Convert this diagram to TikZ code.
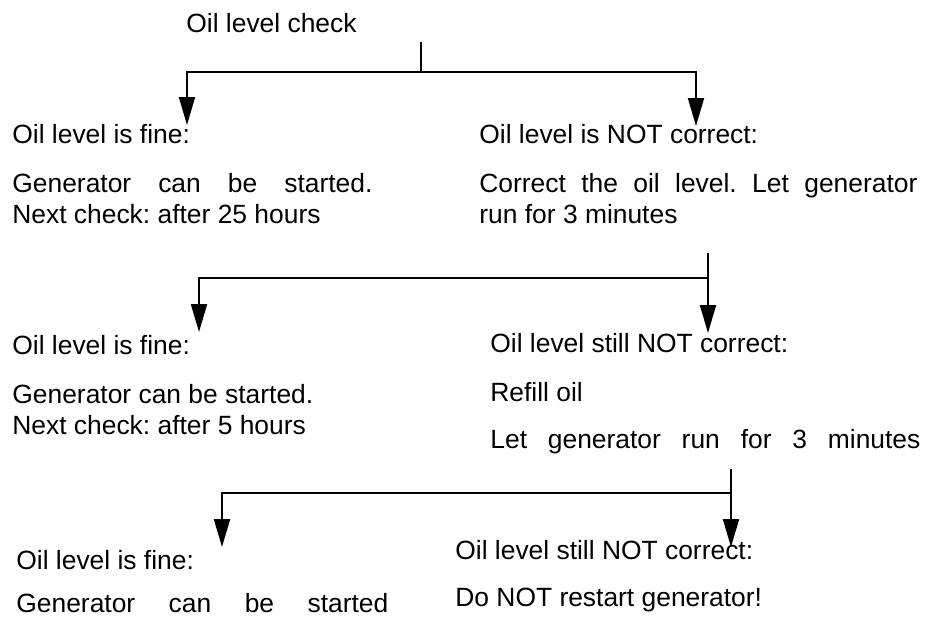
\documentclass[tikz,border=0pt]{standalone}
\usepackage{fontspec}
\setmainfont{Liberation Sans}
\frenchspacing
\usetikzlibrary{arrows.meta}
\tikzset{
  txt/.style={anchor=base west, inner sep=0pt, align=left, font=\fontsize{13.2pt}{15.5pt}\selectfont},
  lin/.style={line width=1pt},
  tra/.style={lin, -{Triangle[length=14pt, width=8pt]}}
}
\newcommand{\jline}[2]{\makebox[#1][s]{#2}}

\begin{document}
\begin{tikzpicture}[x=0.5pt, y=-0.5pt]
		\useasboundingbox (0,0) rectangle (934,618);
		% first check
		\node[txt] (top) at (186,32) {Oil level check};
		\coordinate (s1) at (421,42);
		\coordinate (j1) at (421,72);
		\coordinate (t1a) at (187,125);
		\coordinate (t1b) at (696,126);
		\draw[lin] (s1) -- (j1);
		\draw[tra] (j1) -| (t1a);
		\draw[tra] (j1) -| (t1b);
		\node[txt] (h1a) at (12,143) {Oil level is fine:};
		% multi-line nodes sit on their last baseline
		\node[txt] (b1a) at (12,223) {\jline{180pt}{Generator can be started.}\\Next check: after 25 hours};
		\node[txt] (h1b) at (479,143) {Oil level is NOT correct:};
		\node[txt] (b1b) at (479,223) {\jline{219pt}{Correct the oil level. Let generator}\\run for 3 minutes};
		% second check
		\coordinate (s2) at (708,253);
		\coordinate (j2) at (708,278);
		\coordinate (t2a) at (199,332);
		\coordinate (t2b) at (708,333);
		\draw[lin] (s2) -- (j2);
		\draw[tra] (j2) -| (t2a);
		\draw[tra] (j2) -- (t2b);
		\node[txt] (h2a) at (12,354) {Oil level is fine:};
		\node[txt] (b2a) at (12,434) {Generator can be started.\\Next check: after 5 hours};
		\node[txt] (h2b) at (490,352) {Oil level still NOT correct:};
		\node[txt] (r2b) at (490,401) {Refill oil};
		\node[txt] (l2b) at (490,448) {\jline{215pt}{Let generator run for 3 minutes}};
		% third check
		\coordinate (s3) at (731,469);
		\coordinate (j3) at (731,493);
		\coordinate (t3a) at (222,547);
		\coordinate (t3b) at (731,547);
		\draw[lin] (s3) -- (j3);
		\draw[tra] (j3) -| (t3a);
		\draw[tra] (j3) -- (t3b);
		\node[txt] (h3a) at (16,569) {Oil level is fine:};
		\node[txt] (b3a) at (16,612) {\jline{186pt}{Generator can be started}};
		\node[txt] (h3b) at (455,559) {Oil level still NOT correct:};
		\node[txt] (b3b) at (455,606) {Do NOT restart generator!};
	\end{tikzpicture}
\end{document}
